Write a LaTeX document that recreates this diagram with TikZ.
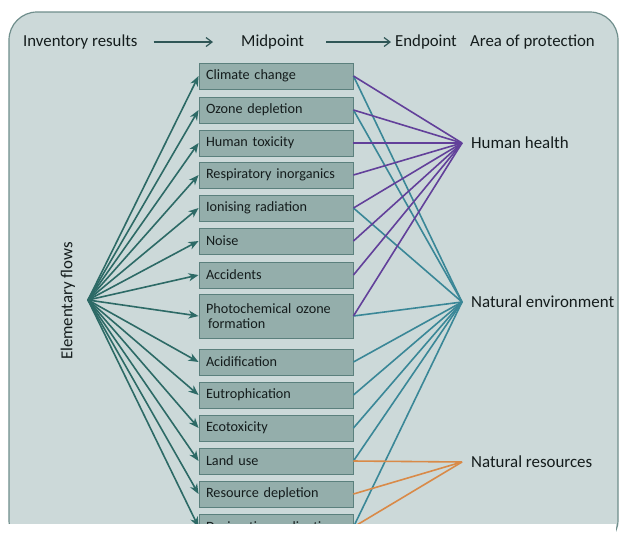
\documentclass[tikz,border=0pt]{standalone}
\usepackage{fontspec}
\setmainfont{Carlito}
\usetikzlibrary{arrows.meta}
\definecolor{panelbg}{HTML}{CCD9D9}
\definecolor{panelborder}{HTML}{6F8E8C}
\definecolor{boxfill}{HTML}{94AEAB}
\definecolor{boxborder}{HTML}{5B807D}
\definecolor{flowc}{HTML}{2D6A66}
\definecolor{purplec}{HTML}{62409A}
\definecolor{tealc}{HTML}{3A8797}
\definecolor{orangec}{HTML}{D98A48}
\definecolor{textc}{HTML}{141C1C}
\definecolor{hdrarrow}{HTML}{2F5656}
\tikzset{
  box/.style={draw=boxborder, fill=boxfill, line width=0.9pt, minimum width=154pt,
    minimum height=26pt, text width=140pt, inner xsep=7pt, align=left,
    font=\fontsize{14.2}{15.5}\selectfont, text=textc},
  hdr/.style={font=\fontsize{16.8}{18}\selectfont, text=textc, inner sep=0pt},
  endlabel/.style={font=\fontsize{16.9}{18}\selectfont, text=textc, inner sep=0pt, anchor=west},
  flow/.style={draw=flowc, line width=1.6pt, -{Stealth[length=10pt,width=8pt,inset=3pt]}},
  hhline/.style={draw=purplec, line width=1.6pt},
  neline/.style={draw=tealc, line width=1.6pt},
  nrline/.style={draw=orangec, line width=1.6pt},
  hdrarr/.style={draw=hdrarrow, line width=1.2pt, -{Straight Barb[length=6pt,width=9pt]}}
}
\begin{document}
\begin{tikzpicture}[x=1pt,y=-1pt]
\useasboundingbox (0,0) rectangle (621,550);
\draw[panelborder, fill=panelbg, line width=1.2pt, rounded corners=28pt] (9,12) rectangle (618,548);
\fill[white] (0,523.5) rectangle (615.5,551);
% header
\node[hdr, anchor=west] (inv) at (23,42) {Inventory results};
\node[hdr, anchor=west] (mid) at (241,42) {Midpoint};
\node[hdr, anchor=west] (endp) at (395,42) {Endpoint};
\node[hdr, anchor=west] (aop) at (470,42) {Area of protection};
\draw[hdrarr, shorten <=16pt, shorten >=28pt] (inv.east) -- (mid.west);
\draw[hdrarr, shorten <=22pt, shorten >=4pt] (mid.east) -- (endp.west);
% endpoints
\coordinate (hh) at (462,143);
\coordinate (ne) at (462,302);
\coordinate (nr) at (462,462);
\node[endlabel] (hht) at (471,143) {Human health};
\node[endlabel] (net) at (471,302) {Natural environment};
\node[endlabel] (nrt) at (471,462) {Natural resources};
\begin{scope}
\clip (0,0) rectangle (621,523);
\coordinate (ef) at (88,300);
\node[hdr, rotate=90] (eft) at (68,301) {Elementary flows};
\node[box] (cc) at (276,76) {Climate change};
\node[box] (od) at (276,110) {Ozone depletion};
\node[box] (ht) at (276,143) {Human toxicity};
\node[box] (ri) at (276,175) {Respiratory inorganics};
\node[box] (ir) at (276,208) {Ionising radiation};
\node[box] (no) at (276,241) {Noise};
\node[box] (ac) at (276,275) {Accidents};
\node[box, minimum height=44pt] (pc) at (276,316) {Photochemical ozone\\\hspace*{2pt}formation};
\node[box] (ad) at (276,362) {Acidification};
\node[box] (eu) at (276,395) {Eutrophication};
\node[box] (et) at (276,428) {Ecotoxicity};
\node[box] (lu) at (276,461) {Land use};
\node[box] (rd) at (276,494) {Resource depletion};
\node[box] (ds) at (276,527) {Desiccation, salination};
\foreach \b in {cc,od,ht,ri,ir,no,ac,pc,ad,eu,et,lu,rd,ds}
  \draw[flow] (ef) -- (\b.west);
\foreach \b in {cc,od,ir,pc,ad,eu,et,lu,ds}
  \draw[neline] (\b.east) -- (ne);
\foreach \b in {cc,od,ht,ri,ir,no,ac,pc}
  \draw[hhline] (\b.east) -- (hh);
\foreach \b in {lu,rd,ds}
  \draw[nrline] (\b.east) -- (nr);
\end{scope}
\end{tikzpicture}
\end{document}
